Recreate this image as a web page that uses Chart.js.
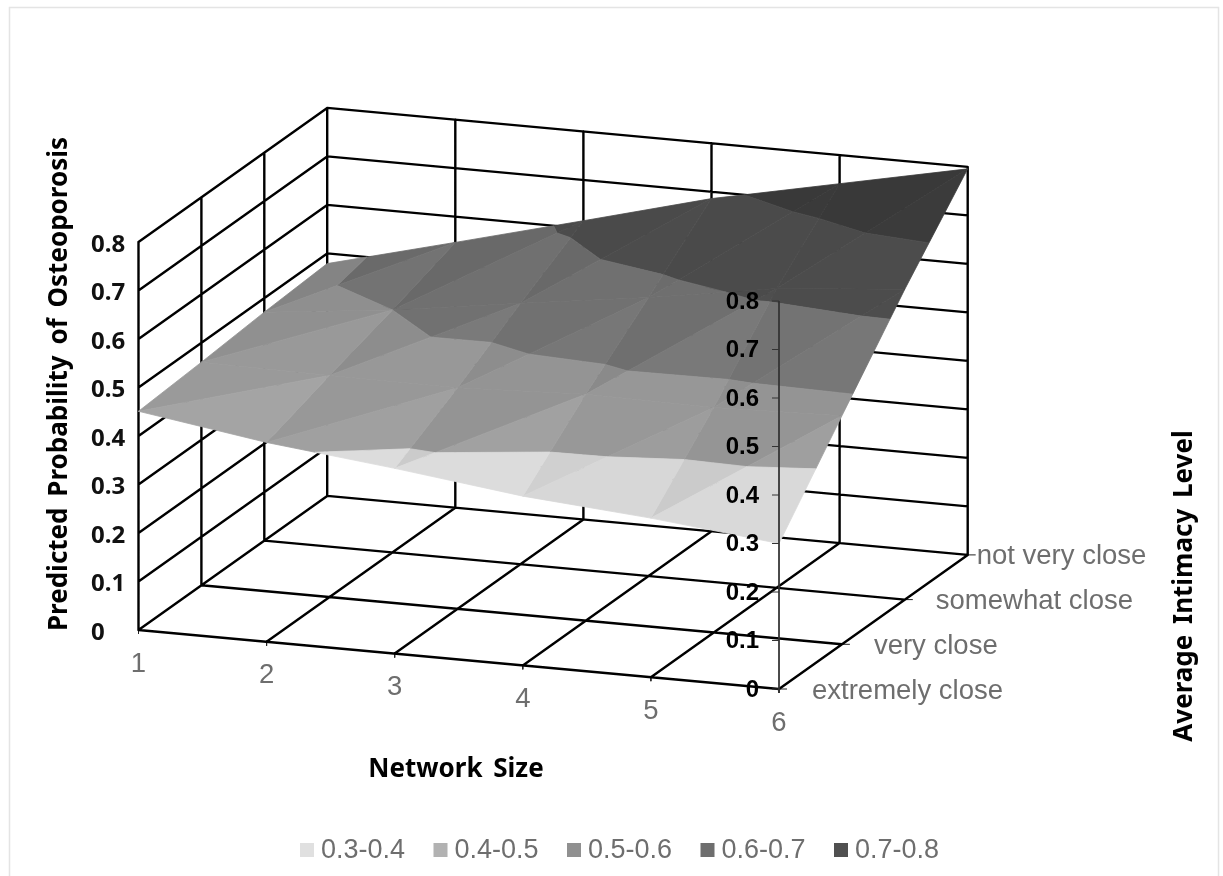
<!DOCTYPE html>
<html>
<head>
<meta charset="utf-8">
<title>Predicted Probability of Osteoporosis</title>
<script src="https://cdn.jsdelivr.net/npm/chart.js@4"></script>
<style>
  html, body { margin: 0; padding: 0; background: #fff; overflow: hidden; }
  canvas { display: block; }
</style>
</head>
<body>
<canvas id="chart" width="1223" height="876"></canvas>
<script>
// values
const networkSizes = [1, 2, 3, 4, 5, 6];
const intimacyLevels = ['extremely close', 'very close', 'somewhat close', 'not very close'];
const probExtremelyClose = [0.451, 0.411, 0.382, 0.349, 0.328, 0.300];
const probVeryClose = [0.460, 0.457, 0.456, 0.467, 0.464, 0.471];
const probSomewhatClose = [0.471, 0.500, 0.538, 0.574, 0.617, 0.640];
const probNotVeryClose = [0.479, 0.547, 0.616, 0.686, 0.741, 0.796];
const probTicks = [0, 0.1, 0.2, 0.3, 0.4, 0.5, 0.6, 0.7, 0.8];
const bandEdges = [0.3, 0.4, 0.5, 0.6, 0.7, 0.8];
const bandLabels = ['0.3-0.4', '0.4-0.5', '0.5-0.6', '0.6-0.7', '0.7-0.8'];

const probGrid = [probExtremelyClose, probVeryClose, probSomewhatClose, probNotVeryClose];

// colours
const legendGreys = [224, 178, 144, 110, 80];
const surfaceGreys = [208, 152, 122, 78, 60];
const facetContrast = [1, 1, 1, 0.4, 0.4];

// the 3D box, flattened to the chart's x/y scales
const origin = { x: 138.5, y: 630 };
const sizeStep = { x: 128.1, y: 11.8 };
const depthStep = { x: 62.9, y: -44.7 };
const probUnit = 485;

function project(s, i, p) {
  return {
    x: origin.x + (s - 1) * sizeStep.x + i * depthStep.x,
    y: origin.y + (s - 1) * sizeStep.y + i * depthStep.y - p * probUnit
  };
}

const GAP = { x: NaN, y: NaN };
const lastSize = networkSizes[networkSizes.length - 1];
const lastDepth = intimacyLevels.length - 1;
const topProb = probTicks[probTicks.length - 1];

// walls and floor grid
const gridPoints = [];
function addSegment(a, b) { gridPoints.push(a, b, GAP); }
probTicks.forEach(p => {
  addSegment(project(1, 0, p), project(1, lastDepth, p));
  addSegment(project(1, lastDepth, p), project(lastSize, lastDepth, p));
});
intimacyLevels.forEach((_, i) => {
  addSegment(project(1, i, 0), project(1, i, topProb));
  addSegment(project(1, i, 0), project(lastSize, i, 0));
});
networkSizes.forEach(s => {
  addSegment(project(s, lastDepth, 0), project(s, lastDepth, topProb));
  addSegment(project(s, 0, 0), project(s, lastDepth, 0));
});

// small ticks, thinner than the grid
const tickPoints = [];
networkSizes.forEach(s => {
  const foot = project(s, 0, 0);
  tickPoints.push(foot, { x: foot.x, y: foot.y + 4 }, GAP);
});
intimacyLevels.forEach((_, i) => {
  const foot = project(lastSize, i, 0);
  tickPoints.push(foot, { x: foot.x + 8, y: foot.y }, GAP);
});

// the thin axis standing at the front right corner
const axisPoints = [];
const axisX = project(lastSize, 0, 0).x;
axisPoints.push(project(lastSize, 0, topProb), { x: axisX, y: project(lastSize, 0, 0).y + 4 }, GAP);
probTicks.forEach(p => {
  const t = project(lastSize, 0, p);
  axisPoints.push(t, { x: t.x - 7, y: t.y }, GAP);
});

// cut a triangle to one probability band
function clipAbove(poly, limit, sign) {
  const out = [];
  poly.forEach((a, n) => {
    const b = poly[(n + 1) % poly.length];
    const da = (a.p - limit) * sign;
    const db = (b.p - limit) * sign;
    if (da >= 0) out.push(a);
    if ((da >= 0) !== (db >= 0)) {
      const f = da / (da - db);
      out.push({ s: a.s + (b.s - a.s) * f, i: a.i + (b.i - a.i) * f, p: limit });
    }
  });
  return out;
}

const surfaceSets = [];
function addFacet(tri, dpds, dpdi) {
  // simple light: faces rising to the right are darker
  const shade = -2 * dpds - 0.1 * (dpdi - 0.05);
  bandLabels.forEach((_, b) => {
    let poly = clipAbove(tri, bandEdges[b], 1);
    poly = clipAbove(poly, bandEdges[b + 1], -1);
    if (poly.length < 3) return;
    const g = Math.round(surfaceGreys[b] * (1 + shade * facetContrast[b]));
    const colour = `rgb(${g},${g},${g})`;
    const pts = poly.map(v => project(v.s, v.i, v.p));
    pts.push(pts[0]);
    surfaceSets.push({
      data: pts, showLine: true, fill: 'shape', tension: 0, pointRadius: 0,
      backgroundColor: colour, borderColor: colour, borderWidth: 0.8, order: 1
    });
  });
}
for (let i = 0; i < lastDepth; i++) {
  for (let n = 0; n < networkSizes.length - 1; n++) {
    const s = networkSizes[n];
    const a = { s: s, i: i, p: probGrid[i][n] };
    const b = { s: s + 1, i: i, p: probGrid[i][n + 1] };
    const c = { s: s + 1, i: i + 1, p: probGrid[i + 1][n + 1] };
    const d = { s: s, i: i + 1, p: probGrid[i + 1][n] };
    addFacet([a, b, c], b.p - a.p, c.p - b.p);
    addFacet([a, c, d], c.p - d.p, d.p - a.p);
  }
}

const TICK_GREY = '#6e6e6e';
const sizeFont = '27.5px "Liberation Sans"';
const depthLabelDx = [33, 32, 31, 9];
const depthLabelDy = [2, 2, 2, 2];

const chartText = {
  id: 'chartText',
  beforeDraw(chart) {
    const ctx = chart.ctx;
    ctx.save();
    ctx.strokeStyle = '#e4e4e4';
    ctx.lineWidth = 1.5;
    ctx.strokeRect(9.5, 7.5, 1209, 900);
    ctx.restore();
  },
  afterDatasetsDraw(chart) {
    const ctx = chart.ctx;
    const sx = chart.scales.x, sy = chart.scales.y;
    const at = pt => ({ x: sx.getPixelForValue(pt.x), y: sy.getPixelForValue(pt.y) });
    ctx.save();
    ctx.textBaseline = 'middle';

    // probability labels, left wall and front corner
    ctx.fillStyle = '#111';
    ctx.font = 'bold 24px "Noto Sans"';
    ctx.textAlign = 'left';
    probTicks.forEach(p => {
      const t = at(project(1, 0, p));
      ctx.fillText(String(p), t.x - 47.5, t.y + 3);
    });
    ctx.font = 'bold 24px "Liberation Sans"';
    ctx.fillStyle = '#000';
    ctx.textAlign = 'right';
    probTicks.forEach(p => {
      const t = at(project(lastSize, 0, p));
      ctx.fillText(String(p), t.x - 20, t.y + 1);
    });

    // network size labels
    ctx.font = sizeFont;
    ctx.fillStyle = TICK_GREY;
    ctx.textAlign = 'center';
    networkSizes.forEach(s => {
      const t = at(project(s, 0, 0));
      ctx.fillText(String(s), t.x, t.y + 34);
    });

    // intimacy labels
    ctx.textAlign = 'left';
    intimacyLevels.forEach((name, i) => {
      const t = at(project(lastSize, i, 0));
      ctx.fillText(name, t.x + depthLabelDx[i], t.y + depthLabelDy[i]);
    });

    // axis titles
    ctx.font = 'bold 26px "Noto Sans"';
    ctx.wordSpacing = '4px';
    ctx.fillStyle = '#000';
    ctx.textAlign = 'center';
    ctx.fillText('Network Size', 456, 770);
    ctx.save();
    ctx.translate(60, 384);
    ctx.rotate(-Math.PI / 2);
    ctx.fillText('Predicted Probability of Osteoporosis', 0, 0);
    ctx.restore();
    ctx.save();
    ctx.translate(1185, 586);
    ctx.rotate(-Math.PI / 2);
    ctx.fillText('Average Intimacy Level', 0, 0);
    ctx.restore();
    ctx.wordSpacing = '0px';

    // legend
    ctx.font = '27px "Liberation Sans"';
    ctx.textAlign = 'left';
    bandLabels.forEach((label, b) => {
      const x = 300 + b * 133.5;
      const g = legendGreys[b];
      ctx.fillStyle = `rgb(${g},${g},${g})`;
      ctx.fillRect(x, 843, 14, 14);
      ctx.fillStyle = TICK_GREY;
      ctx.fillText(label, x + 21, 851);
    });
    ctx.restore();
  }
};

new Chart(document.getElementById('chart').getContext('2d'), {
  type: 'scatter',
  data: {
    datasets: [
      { data: axisPoints, showLine: true, tension: 0, pointRadius: 0, borderColor: '#333', borderWidth: 1, order: 0 },
      ...surfaceSets,
      { data: gridPoints, showLine: true, tension: 0, pointRadius: 0, borderColor: '#000', borderWidth: 2.4, order: 2, borderCapStyle: 'round' },
      { data: tickPoints, showLine: true, tension: 0, pointRadius: 0, borderColor: '#222', borderWidth: 1, order: 3 }
    ]
  },
  plugins: [chartText],
  options: {
    responsive: false,
    animation: false,
    events: [],
    layout: { padding: 0 },
    scales: {
      x: { type: 'linear', min: 0, max: 1223, display: false },
      y: { type: 'linear', min: 0, max: 876, reverse: true, display: false }
    },
    plugins: {
      legend: { display: false },
      tooltip: { enabled: false }
    }
  }
});
</script>
</body>
</html>
